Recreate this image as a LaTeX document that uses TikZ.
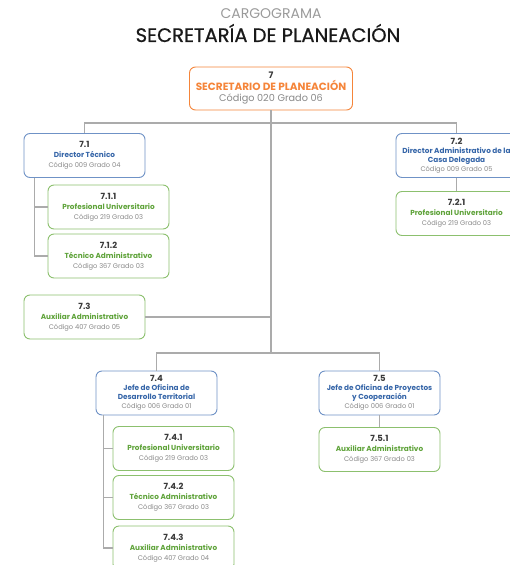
\documentclass[tikz,border=0pt]{standalone}
\usepackage{fontspec}
\setmainfont{Poppins}
\newfontfamily\titfont{Poppins}[FakeBold=0.8]
\usetikzlibrary{positioning}
\definecolor{naranja}{HTML}{F5853A}
\definecolor{azul}{HTML}{3565A8}
\definecolor{bordeazul}{HTML}{6F92C6}
\definecolor{verde}{HTML}{5FA33A}
\definecolor{bordeverde}{HTML}{8CC06E}
\definecolor{lineagris}{HTML}{ABABAB}
\definecolor{txtnum}{HTML}{3A3A3A}
\definecolor{txtgris}{HTML}{8A8A8A}
\definecolor{titgris}{HTML}{9A9A9A}
\newcommand{\cargo}[4]{{\fontsize{8.5}{10}\selectfont\color{txtnum}\bfseries #1}\\
  {\color{#2}\bfseries #3}\\ {\fontsize{6.7}{10}\selectfont\color{txtgris}#4}}
\newcommand{\cargodos}[5]{{\fontsize{8.5}{10}\selectfont\color{txtnum}\bfseries #1}\\[-1pt]
  {\color{#2}\bfseries #3}\\[-1.5pt] {\color{#2}\bfseries #4}\\[-1pt]
  {\fontsize{6.7}{10}\selectfont\color{txtgris}#5}}
\tikzset{
  cargobox/.style={draw, rounded corners=6pt, fill=white, line width=0.9pt,
    align=center, minimum width=121pt, minimum height=44pt, inner sep=2pt,
    font=\fontsize{7.3}{10}\selectfont},
  azulbox/.style={cargobox, draw=bordeazul},
  verdebox/.style={cargobox, draw=bordeverde},
  raizbox/.style={cargobox, draw=naranja, minimum width=163pt, minimum height=43pt,
    font=\fontsize{10.5}{11.5}\selectfont},
  linea/.style={draw=lineagris, line width=1.2pt}
}
\begin{document}
\begin{tikzpicture}[x=1pt,y=-1pt]
    \clip (0,0) rectangle (510,565);
    % titulo
    \node (cargograma) at (271,14) {\fontsize{14}{16}\selectfont\color{titgris}CARGOGRAMA};
    \node (titulo) at (268,33) {\titfont\fontsize{19.5}{21}\selectfont\color{black!90}SECRETARÍA DE PLANEACIÓN};
    % cargos
    \node[raizbox] (t7) at (271,88.5) {{\fontsize{9}{11}\selectfont\color{txtnum}\bfseries 7}\\
        {\color{naranja}\bfseries SECRETARIO DE PLANEACIÓN}\\ {\fontsize{9.7}{11.5}\selectfont\color{txtgris}Código 020 Grado 06}};
    \node[azulbox] (t71) at (84.5,155.5) {\cargo{7.1}{azul}{Director Técnico}{Código 009 Grado 04}};
    \node[azulbox] (t72) at (456.5,155.5) {\cargodos{7.2}{azul}{Director Administrativo de la}{Casa Delegada}{Código 009 Grado 05}};
    \node[verdebox] (t711) at (108.5,207) {\cargo{7.1.1}{verde}{Profesional Universitario}{Código 219 Grado 03}};
    \node[verdebox] (t712) at (108.5,256) {\cargo{7.1.2}{verde}{Técnico Administrativo}{Código 367 Grado 03}};
    \node[verdebox] (t721) at (456.5,213.5) {\cargo{7.2.1}{verde}{Profesional Universitario}{Código 219 Grado 03}};
    \node[verdebox] (t73) at (84.5,317) {\cargo{7.3}{verde}{Auxiliar Administrativo}{Código 407 Grado 05}};
    \node[azulbox] (t74) at (156.5,393) {\cargodos{7.4}{azul}{Jefe de Oficina de}{Desarrollo Territorial}{Código 006 Grado 01}};
    \node[azulbox] (t75) at (379.5,393) {\cargodos{7.5}{azul}{Jefe de Oficina de Proyectos}{y Cooperación}{Código 006 Grado 01}};
    \node[verdebox] (t741) at (173.5,448.5) {\cargo{7.4.1}{verde}{Profesional Universitario}{Código 219 Grado 03}};
    \node[verdebox] (t742) at (173.5,497.5) {\cargo{7.4.2}{verde}{Técnico Administrativo}{Código 367 Grado 03}};
    \node[verdebox] (t743) at (173.5,548) {\cargo{7.4.3}{verde}{Auxiliar Administrativo}{Código 407 Grado 04}};
    \node[verdebox] (t751) at (379.5,449.5) {\cargo{7.5.1}{verde}{Auxiliar Administrativo}{Código 367 Grado 03}};
    % lineas
    \coordinate (bus1) at (271,123);
    \coordinate (bus2) at (271,353);
    \draw[linea] (t7.south) -- (bus2);
    \draw[linea] (t71.north) |- (bus1) -| (t72.north);
    \draw[linea] (t74.north) |- (bus2) -| (t75.north);
    \draw[linea] (t73.east) -- (t73.east -| bus1);
    \draw[linea] ([xshift=11pt]t71.south west) |- (t711.west);
    \draw[linea] ([xshift=11pt]t71.south west) |- (t712.west);
    \draw[linea] (t72.south) -- (t721.north);
    \draw[linea] ([xshift=8pt]t74.south west) |- (t741.west);
    \draw[linea] ([xshift=8pt]t74.south west) |- (t742.west);
    \draw[linea] ([xshift=8pt]t74.south west) |- (t743.west);
    \draw[linea] (t75.south) -- (t751.north);
\end{tikzpicture}
\end{document}
